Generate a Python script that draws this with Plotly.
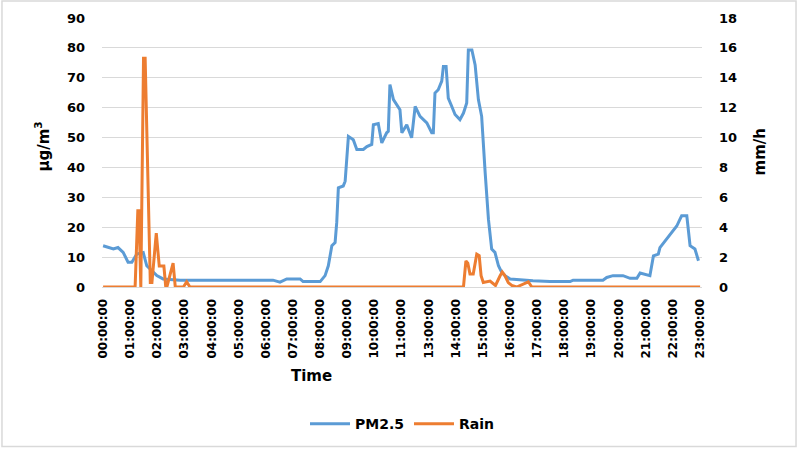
import plotly.graph_objects as go

# Tick labels along the time axis (12:00:00 is not shown in the original)
tick_labels = ["00:00:00", "01:00:00", "02:00:00", "03:00:00", "04:00:00", "05:00:00",
               "06:00:00", "07:00:00", "08:00:00", "09:00:00", "10:00:00", "11:00:00",
               "13:00:00", "14:00:00", "15:00:00", "16:00:00", "17:00:00", "18:00:00",
               "19:00:00", "20:00:00", "21:00:00", "22:00:00", "23:00:00"]
tick_pos = list(range(len(tick_labels)))

# PM2.5 (µg/m3) – position on the time axis (label slots) and value
pm_t = [0, 0.38, 0.55, 0.74, 0.92, 1.06, 1.24, 1.48, 1.61, 1.98, 2.21, 2.84, 6.26, 6.52,
        6.77, 7.26, 7.37, 8.0, 8.18, 8.30, 8.43, 8.55, 8.61, 8.67, 8.85, 8.92, 9.04, 9.22,
        9.35, 9.59, 9.72, 9.90, 9.96, 10.14, 10.27, 10.45, 10.51, 10.57, 10.70, 10.94,
        11.01, 11.19, 11.37, 11.50, 11.68, 11.93, 12.11, 12.17, 12.23, 12.35, 12.48, 12.54,
        12.64, 12.72, 12.85, 12.97, 13.15, 13.28, 13.40, 13.46, 13.59, 13.71, 13.83, 13.95,
        14.08, 14.20, 14.32, 14.44, 14.57, 14.69, 14.81, 15.0, 15.84, 16.47, 17.21, 17.32,
        18.42, 18.56, 18.79, 19.16, 19.42, 19.67, 19.79, 20.15, 20.28, 20.46, 20.52, 20.71,
        20.83, 21.01, 21.14, 21.26, 21.32, 21.51, 21.63, 21.81, 21.94]
pm_v = [13.8, 12.7, 13.2, 11.6, 8.3, 8.3, 11.0, 11.5, 7.1, 3.8, 2.7, 2.3, 2.3, 1.6,
        2.7, 2.7, 1.8, 1.8, 3.8, 7.1, 13.8, 14.9, 21.6, 33.2, 33.8, 35.4, 50.4, 49.3,
        46.0, 46.0, 47.0, 47.7, 54.3, 54.7, 48.2, 51.6, 52.1, 67.7, 62.7, 59.3,
        51.6, 54.3, 49.9, 60.4, 57.1, 54.9, 51.6, 51.6, 64.9, 66.0, 68.9, 73.8,
        73.8, 63.2, 60.4, 57.7, 56.0, 58.2, 61.6, 79.3, 79.3, 74.3, 62.7, 57.1,
        38.2, 22.7, 12.7, 11.6, 7.1, 4.9, 3.8, 2.7, 2.1, 1.8, 1.8, 2.3,
        2.3, 3.2, 3.8, 3.8, 2.9, 2.9, 4.7, 3.8, 10.4, 11.0, 13.2, 15.4,
        17.1, 18.8, 20.4, 22.7, 23.8, 23.8, 13.8, 12.7, 8.8]

# Rain (mm/h)
rain_t = [0, 1.18, 1.28, 1.32, 1.39, 1.49, 1.55, 1.74, 1.80, 1.96, 2.07, 2.24, 2.31, 2.35,
          2.58, 2.66, 2.96, 3.08, 3.20, 13.28, 13.37, 13.44, 13.52, 13.64, 13.77, 13.86,
          13.93, 14.01, 14.26, 14.46, 14.63, 14.71, 14.81, 14.93, 15.06, 15.24, 15.67,
          15.80, 22.0]
rain_v = [0, 0, 5.1, 5.1, 0, 15.3, 15.3, 0.3, 0.3, 3.6, 1.4, 1.4, 0, 0,
          1.6, 0, 0, 0.35, 0, 0, 1.75, 1.6, 0.87, 0.87, 2.2, 2.1,
          0.75, 0.3, 0.4, 0.1, 0.75, 1.0, 0.75, 0.3, 0.1, 0, 0.35,
          0, 0]

BLUE = "#5B9BD5"
ORANGE = "#ED7D31"
FONT = "DejaVu Sans"

fig = go.Figure()
fig.add_trace(go.Scatter(x=pm_t, y=pm_v, mode="lines", name="PM2.5",
                         line=dict(color=BLUE, width=3)))
fig.add_trace(go.Scatter(x=rain_t, y=rain_v, mode="lines", name="Rain", yaxis="y2",
                         line=dict(color=ORANGE, width=3)))

fig.update_layout(
    width=800, height=450,
    margin=dict(l=102, r=98, t=18, b=162),
    paper_bgcolor="white", plot_bgcolor="white",
    font=dict(family=FONT, size=13, color="black", weight="bold"),
    showlegend=True,
    legend=dict(orientation="h", x=0.5, xanchor="center", y=-0.504, yanchor="middle",
                font=dict(size=14, family=FONT, weight="bold"), itemwidth=40),
    xaxis=dict(range=[-0.04, 22.07], tickmode="array", tickvals=tick_pos,
               ticktext=tick_labels, tickangle=-90, showgrid=False, zeroline=False,
               showline=True, linecolor="#d9d9d9", ticks="",
               tickfont=dict(size=12, family=FONT, weight="bold"), ticklabelstandoff=6),
    yaxis=dict(range=[0, 90], dtick=10, showgrid=True, gridcolor="#d9d9d9", gridwidth=1,
               zeroline=False, showline=False, ticks="", ticklabelstandoff=16,
               tickfont=dict(size=13, family=FONT, weight="bold")),
    yaxis2=dict(range=[0, 18], dtick=2, overlaying="y", side="right", showgrid=False,
                zeroline=False, showline=False, ticks="", ticklabelstandoff=16,
                tickfont=dict(size=13, family=FONT, weight="bold")),
    annotations=[
        dict(text="Time", xref="paper", yref="paper", x=0.349, y=-0.33, showarrow=False,
             xanchor="center", yanchor="middle", font=dict(size=15, family=FONT, weight="bold")),
        dict(text="μg/m<sup>3</sup>", xref="paper", yref="paper", x=-0.10, y=0.522,
             showarrow=False, textangle=-90, xanchor="center", yanchor="middle",
             font=dict(size=15, family=FONT, weight="bold")),
        dict(text="mm/h", xref="paper", yref="paper", x=1.095, y=0.50,
             showarrow=False, textangle=-90, xanchor="center", yanchor="middle",
             font=dict(size=15, family=FONT, weight="bold")),
    ],
    shapes=[dict(type="rect", xref="paper", yref="paper", x0=-0.1667, x1=1.1567,
                 y0=-0.5926, y1=1.063, line=dict(color="#d9d9d9", width=1.5),
                 fillcolor="rgba(0,0,0,0)", layer="below")],
)

fig.write_html("out.html", config={"displayModeBar": False},
               post_script="document.body.style.margin='0';document.body.style.overflow='hidden';")
